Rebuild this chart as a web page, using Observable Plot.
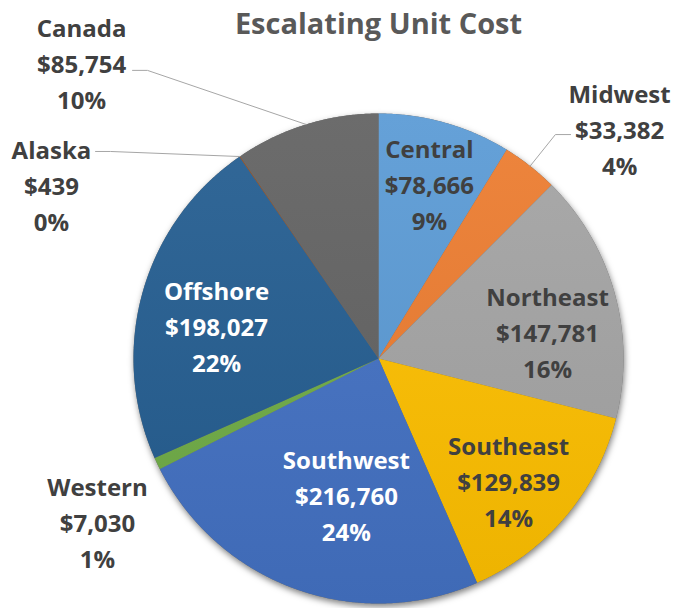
<!DOCTYPE html>
<html>
<head>
<meta charset="utf-8">
<script src="https://cdn.jsdelivr.net/npm/d3@7"></script>
<script src="https://cdn.jsdelivr.net/npm/@observablehq/plot@0.6"></script>
<style>
  html, body { margin: 0; padding: 0; background: #fff; }
  #chart { width: 677px; height: 608px; }
</style>
</head>
<body>
<div id="chart"></div>
<script>
// ---- data ----
const title = "Escalating Unit Cost";
const names = ["Central", "Midwest", "Northeast", "Southeast", "Southwest", "Western", "Offshore", "Alaska", "Canada"];
const values = [78666, 33382, 147781, 129839, 216760, 7030, 198027, 439, 85754];

// ---- styling / layout (not data) ----
const colors = ["#5B9BD5", "#ED7D31", "#A5A5A5", "#FFC000", "#4472C4", "#70AD47", "#255E91", "#9E480E", "#636363"];
const textColors = ["#404040", "#404040", "#404040", "#404040", "#ffffff", "#404040", "#ffffff", "#404040", "#404040"];
// label centres, in pie-radius units relative to the pie centre
const labelX = [0.208, 0.984, 0.690, 0.531, -0.131, -1.147, -0.661, -1.335, -1.212];
const labelY = [0.718, 0.943, 0.114, -0.494, -0.551, -0.661, 0.139, 0.714, 1.212];
// leader lines: elbow and end points (radius units), null = none
const leaders = {
  Midwest: [[0.722, 0.914], [0.784, 0.914]],
  Alaska: [[-1.094, 0.845], [-1.155, 0.845]],
  Canada: [[-0.943, 1.176], [-1.004, 1.176]]
};

const total = d3.sum(values);
const fmtMoney = d3.format(",");
const fmtPct = d3.format(".0%");

const arcs = d3.pie().sort(null).startAngle(0).endAngle(2 * Math.PI)(values);

// slice polygons
const slices = arcs.map((a, i) => {
  const pts = [{x: 0, y: 0}];
  const n = Math.max(2, Math.ceil((a.endAngle - a.startAngle) / 0.005));
  for (let k = 0; k <= n; k++) {
    const t = a.startAngle + (a.endAngle - a.startAngle) * k / n;
    pts.push({x: Math.sin(t), y: Math.cos(t)});
  }
  pts.push({x: 0, y: 0});
  return {name: names[i], i, pts};
});

const disc = d3.range(0, 721).map(k => {
  const t = k / 720 * 2 * Math.PI;
  return {x: Math.sin(t), y: Math.cos(t)};
});

const labels = names.map((n, i) => ({
  name: n,
  x: labelX[i],
  y: labelY[i],
  text: `${n}\n$${fmtMoney(values[i])}\n${fmtPct(values[i] / total)}`,
  color: textColors[i]
}));

const leaderPts = [];
arcs.forEach((a, i) => {
  const L = leaders[names[i]];
  if (!L) return;
  const m = (a.startAngle + a.endAngle) / 2;
  leaderPts.push({name: names[i], x: Math.sin(m), y: Math.cos(m)});
  L.forEach(p => leaderPts.push({name: names[i], x: p[0], y: p[1]}));
});

const plot = Plot.plot({
  width: 677,
  height: 608,
  marginLeft: 133,
  marginRight: 54,
  marginTop: 113,
  marginBottom: 5,
  x: {domain: [-1, 1], axis: null},
  y: {domain: [-1, 1], axis: null},
  style: {overflow: "visible", background: "#fff", fontFamily: "'Open Sans', sans-serif"},
  marks: [
    Plot.line(disc, {x: "x", y: "y", fill: "#6a6a6a", stroke: "none"}),
    ...slices.map(s => Plot.line(s.pts, {x: "x", y: "y", fill: `url(#grad${s.i})`, stroke: "none"})),
    Plot.line(leaderPts, {x: "x", y: "y", z: "name", stroke: "#A6A6A6", strokeWidth: 1, curve: "linear"}),
    Plot.text(labels, {x: "x", y: "y", text: "text", fill: "color", fontSize: 24, fontWeight: "bold", lineHeight: 1.5, lineAnchor: "middle", textAnchor: "middle"}),
    Plot.text([title], {x: 0, y: 1.363, text: d => d, fill: "#595959", fontSize: 29, fontWeight: "bold", lineAnchor: "middle", textAnchor: "middle"})
  ]
});

// gradients for the slices (light top to darker bottom, across the pie)
const yTop = plot.scale("y").apply(1);
const yBot = plot.scale("y").apply(-1);
const ns = "http://www.w3.org/2000/svg";
const defs = document.createElementNS(ns, "defs");
colors.forEach((c, i) => {
  const g = document.createElementNS(ns, "linearGradient");
  g.setAttribute("id", `grad${i}`);
  g.setAttribute("gradientUnits", "userSpaceOnUse");
  g.setAttribute("x1", 0); g.setAttribute("x2", 0);
  g.setAttribute("y1", yTop); g.setAttribute("y2", yBot);
  const s0 = document.createElementNS(ns, "stop");
  s0.setAttribute("offset", "0");
  s0.setAttribute("stop-color", d3.interpolateRgb(c, "#ffffff")(0.06));
  const s1 = document.createElementNS(ns, "stop");
  s1.setAttribute("offset", "1");
  s1.setAttribute("stop-color", d3.interpolateRgb(c, "#000000")(0.07));
  g.appendChild(s0); g.appendChild(s1);
  defs.appendChild(g);
});
plot.insertBefore(defs, plot.firstChild);
const firstLine = plot.querySelector('g[aria-label="line"]');
if (firstLine) firstLine.style.filter = "drop-shadow(1px 3px 3px rgba(0,0,0,0.5))";

document.getElementById("chart").appendChild(plot);
</script>
</body>
</html>
